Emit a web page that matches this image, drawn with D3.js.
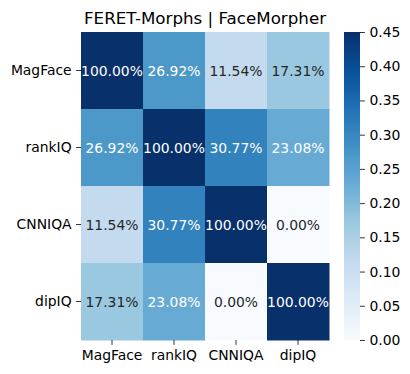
<!DOCTYPE html>
<html>
<head>
<meta charset="utf-8">
<script src="https://cdn.jsdelivr.net/npm/d3@7"></script>
<style>
  html, body { margin: 0; padding: 0; background: #fff; }
  text { font-family: "DejaVu Sans", sans-serif; }
</style>
</head>
<body>
<script>
// chart data
var methods = ["MagFace", "rankIQ", "CNNIQA", "dipIQ"];
var rowMagFace = [1.0, 0.2692, 0.1154, 0.1731];
var rowRankIQ  = [0.2692, 1.0, 0.3077, 0.2308];
var rowCNNIQA  = [0.1154, 0.3077, 1.0, 0.0];
var rowDipIQ   = [0.1731, 0.2308, 0.0, 1.0];
var matrix = [rowMagFace, rowRankIQ, rowCNNIQA, rowDipIQ];
var colorTicks = [0, 0.05, 0.1, 0.15, 0.2, 0.25, 0.3, 0.35, 0.4, 0.45];
var vmin = 0, vmax = 0.45;
var title = "FERET-Morphs | FaceMorpher";

var width = 410, height = 374;

var svg = d3.select("body")
    .append("svg")
    .attr("width", width)
    .attr("height", height);

// heatmap area (window.top is reserved, so plot* names)
var plotLeft = 81, plotRight = 329, plotTop = 32, plotBottom = 340;

var x = d3.scaleBand()
    .domain(methods)
    .range([plotLeft, plotRight])
    .padding(0);

var y = d3.scaleBand()
    .domain(methods)
    .range([plotTop, plotBottom])
    .padding(0);

// matplotlib Blues (colorbrewer anchors, linear rgb)
var blues = ["#f7fbff", "#deebf7", "#c6dbef", "#9ecae1", "#6baed6",
             "#4292c6", "#2171b5", "#08519c", "#08306b"];
var color = d3.scaleLinear()
    .domain(blues.map(function (d, i) { return vmin + (vmax - vmin) * i / (blues.length - 1); }))
    .range(blues)
    .interpolate(d3.interpolateRgb)
    .clamp(true);

var cells = [];
matrix.forEach(function (row, i) {
    row.forEach(function (v, j) {
        cells.push({ row: methods[i], col: methods[j], value: v });
    });
});

svg.append("g")
    .selectAll("rect")
    .data(cells)
    .enter()
    .append("rect")
    .attr("x", function (d) { return x(d.col); })
    .attr("y", function (d) { return y(d.row); })
    .attr("width", x.bandwidth() + 0.5)
    .attr("height", y.bandwidth() + 0.5)
    .attr("fill", function (d) { return color(d.value); });

// annotation text color like seaborn (relative luminance)
function lum(c) {
    var rgb = d3.rgb(c);
    var ch = [rgb.r, rgb.g, rgb.b].map(function (v) {
        v = v / 255;
        return v <= 0.03928 ? v / 12.92 : Math.pow((v + 0.055) / 1.055, 2.4);
    });
    return 0.2126 * ch[0] + 0.7152 * ch[1] + 0.0722 * ch[2];
}

var fmt = d3.format(".2%");

svg.append("g")
    .selectAll("text")
    .data(cells)
    .enter()
    .append("text")
    .attr("x", function (d) { return x(d.col) + x.bandwidth() / 2; })
    .attr("y", function (d) { return y(d.row) + y.bandwidth() / 2; })
    .attr("text-anchor", "middle")
    .attr("dominant-baseline", "central")
    .style("font-size", "13.9px")
    .style("fill", function (d) { return lum(color(d.value)) > 0.408 ? "#262626" : "#ffffff"; })
    .text(function (d) { return fmt(d.value); });

// axes
var xAxis = svg.append("g")
    .attr("transform", "translate(0," + plotBottom + ")")
    .call(d3.axisBottom(x).tickSize(4.9).tickPadding(4.5));

var yAxis = svg.append("g")
    .attr("transform", "translate(" + plotLeft + ",0)")
    .call(d3.axisLeft(y).tickSize(4.9).tickPadding(4.5));

[xAxis, yAxis].forEach(function (a) {
    a.select(".domain").remove();
    a.selectAll("line").attr("stroke", "#000").attr("stroke-width", 0.8);
    a.selectAll("text")
        .style("font-size", "13.9px")
        .style("font-family", "DejaVu Sans, sans-serif")
        .attr("fill", "#000");
});
xAxis.selectAll("text").attr("dy", "0.75em");

// title
svg.append("text")
    .attr("x", (plotLeft + plotRight) / 2)
    .attr("y", 24)
    .attr("text-anchor", "middle")
    .style("font-size", "16.7px")
    .style("fill", "#000")
    .text(title);

// colorbar
var cbLeft = 344, cbWidth = 16;
var cbScale = d3.scaleLinear()
    .domain([vmin, vmax])
    .range([plotBottom, plotTop]);

var defs = svg.append("defs");
var grad = defs.append("linearGradient")
    .attr("id", "cbgrad")
    .attr("x1", "0").attr("y1", "1")
    .attr("x2", "0").attr("y2", "0");

d3.range(0, 1.0001, 0.05).forEach(function (t) {
    grad.append("stop")
        .attr("offset", t)
        .attr("stop-color", color(vmin + t * (vmax - vmin)));
});

svg.append("rect")
    .attr("x", cbLeft)
    .attr("y", plotTop)
    .attr("width", cbWidth)
    .attr("height", plotBottom - plotTop)
    .attr("fill", "url(#cbgrad)");

var cbAxis = svg.append("g")
    .attr("transform", "translate(" + (cbLeft + cbWidth) + ",0)")
    .call(d3.axisRight(cbScale)
        .tickValues(colorTicks)
        .tickFormat(d3.format(".2f"))
        .tickSize(4.9)
        .tickPadding(4.5));

cbAxis.select(".domain").remove();
cbAxis.selectAll("line").attr("stroke", "#000").attr("stroke-width", 0.8);
cbAxis.selectAll("text")
    .style("font-size", "13.9px")
    .style("font-family", "DejaVu Sans, sans-serif")
    .attr("fill", "#000");
</script>
</body>
</html>
